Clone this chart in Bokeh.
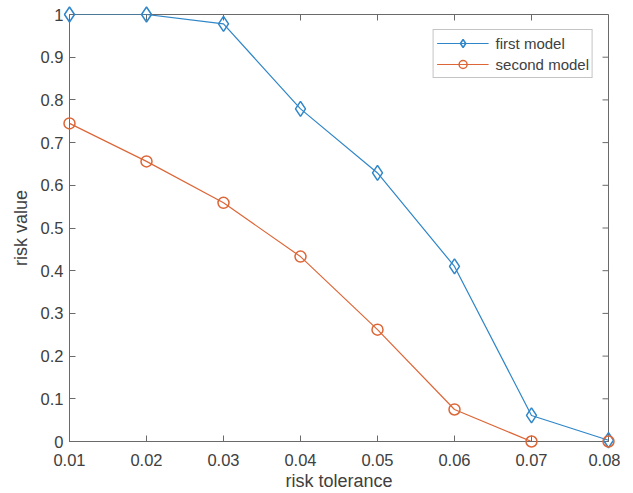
import math
from bokeh.plotting import figure
from bokeh.models import Range1d, FixedTicker, Legend, LegendItem
from bokeh.embed import file_html
from bokeh.resources import INLINE

tolerance = [0.01, 0.02, 0.03, 0.04, 0.05, 0.06, 0.07, 0.08]
first_model = [1.0, 1.0, 0.978, 0.779, 0.629, 0.410, 0.061, 0.003]
second_model = [0.745, 0.656, 0.559, 0.433, 0.262, 0.075, 0.0, 0.0]
x_ticks = [0.01, 0.02, 0.03, 0.04, 0.05, 0.06, 0.07, 0.08]
y_ticks = [0, 0.1, 0.2, 0.3, 0.4, 0.5, 0.6, 0.7, 0.8, 0.9, 1.0]
x_tick_labels = ["0.01", "0.02", "0.03", "0.04", "0.05", "0.06", "0.07", "0.08"]
y_tick_labels = ["0", "0.1", "0.2", "0.3", "0.4", "0.5", "0.6", "0.7", "0.8", "0.9", "1"]

BLUE = "#2f86c8"
ORANGE = "#dd6637"
TEXT = "#404040"
AXIS = "#6a6a6a"
FONT = "Liberation Sans"
X0, X1 = 0.01, 0.08
Y0, Y1 = 0.0, 1.0

p = figure(width=620, height=493, output_backend="svg", toolbar_location=None,
           x_range=Range1d(X0, X1), y_range=Range1d(Y0, Y1),
           min_border_left=69, min_border_right=12, min_border_top=14, min_border_bottom=52)
p.xgrid.visible = False
p.ygrid.visible = False
p.outline_line_color = AXIS
p.outline_line_width = 1
p.background_fill_color = "white"

for ax, ticks, labels in ((p.xaxis[0], x_ticks, x_tick_labels), (p.yaxis[0], y_ticks, y_tick_labels)):
    ax.ticker = FixedTicker(ticks=ticks)
    ax.major_label_overrides = dict(zip(ticks, labels))
    ax.major_tick_in = 6
    ax.major_tick_out = 0
    ax.minor_tick_in = 0
    ax.minor_tick_out = 0
    ax.axis_line_color = AXIS
    ax.major_tick_line_color = AXIS
    ax.major_label_text_font = FONT
    ax.major_label_text_font_size = "16.5px"
    ax.major_label_text_color = TEXT
    ax.axis_label_text_font = FONT
    ax.axis_label_text_font_size = "18px"
    ax.axis_label_text_font_style = "normal"
    ax.axis_label_text_color = TEXT

p.xaxis[0].axis_label = "risk tolerance"
p.yaxis[0].axis_label = "risk value"
p.xaxis[0].major_label_standoff = 12
p.xaxis[0].axis_label_standoff = 2
p.yaxis[0].major_label_standoff = 6
p.yaxis[0].axis_label_standoff = 7

# inward ticks on the top and right edges of the box
p.ray(x=x_ticks, y=[Y1] * len(x_ticks), length=6, length_units="screen",
      angle=-math.pi / 2, line_color=AXIS, line_width=1)
p.ray(x=[X1] * len(y_ticks), y=y_ticks, length=6, length_units="screen",
      angle=math.pi, line_color=AXIS, line_width=1)

l1 = p.line(tolerance, first_model, line_color=BLUE, line_width=1.2)
m1 = p.scatter(tolerance, first_model, marker="diamond", size=15, fill_color=None,
               line_color=BLUE, line_width=1.5, level="overlay")
l2 = p.line(tolerance, second_model, line_color=ORANGE, line_width=1.2)
m2 = p.scatter(tolerance, second_model, marker="circle", size=11, fill_color=None,
               line_color=ORANGE, line_width=1.5, level="overlay")

legend = Legend(items=[LegendItem(label="first model", renderers=[l1, m1]),
                       LegendItem(label="second model", renderers=[l2, m2])],
                location="top_right", margin=15, padding=3, spacing=1,
                glyph_width=52, glyph_height=20, label_standoff=7,
                label_text_font=FONT, label_text_font_size="15px", label_text_color=TEXT,
                border_line_color="#8a8a8a", border_line_width=1,
                background_fill_color="white", background_fill_alpha=1)
p.add_layout(legend, "center")

open("out.html", "w").write(file_html(p, INLINE))
